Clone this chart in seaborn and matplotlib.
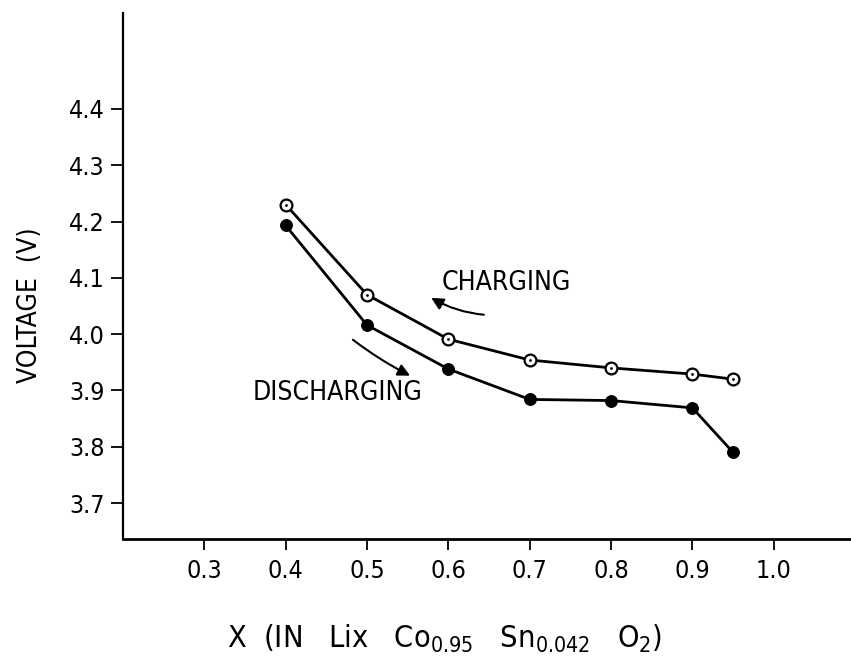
import matplotlib
matplotlib.use("Agg")
import matplotlib.pyplot as plt
import seaborn as sns
import pandas as pd

# Data

x_vals = [0.4, 0.5, 0.6, 0.7, 0.8, 0.9, 0.95]
charging = [4.230, 4.070, 3.991, 3.954, 3.940, 3.929, 3.920]
discharging = [4.193, 4.016, 3.938, 3.884, 3.882, 3.869, 3.790]

x_ticks = [0.3, 0.4, 0.5, 0.6, 0.7, 0.8, 0.9, 1.0]
x_ticklabels = ["0.3", "0.4", "0.5", "0.6", "0.7", "0.8", "0.9", "1.0"]
y_ticks = [3.7, 3.8, 3.9, 4.0, 4.1, 4.2, 4.3, 4.4]
y_ticklabels = ["3.7", "3.8", "3.9", "4.0", "4.1", "4.2", "4.3", "4.4"]

df = pd.DataFrame({"x": x_vals, "charging": charging, "discharging": discharging})

sns.set_style("ticks")
plt.rcParams["font.family"] = ["DejaVu Sans"]
plt.rcParams["font.stretch"] = "condensed"
plt.rcParams["text.color"] = "black"
plt.rcParams["axes.labelcolor"] = "black"

fig = plt.figure(figsize=(8.51, 6.59), dpi=100)
ax = fig.add_axes([0.1445, 0.182, 0.8555, 0.798])

# Charging curve: open circles with a centre dot
sns.lineplot(data=df, x="x", y="charging", ax=ax, color="black", linewidth=2.0,
             marker="o", markersize=8.5, markerfacecolor="white",
             markeredgecolor="black", markeredgewidth=1.6)
sns.scatterplot(data=df, x="x", y="charging", ax=ax, color="black", s=4,
                linewidth=0, zorder=5)

# Discharging curve: filled circles
sns.lineplot(data=df, x="x", y="discharging", ax=ax, color="black", linewidth=2.0,
             marker="o", markersize=8.5, markerfacecolor="black",
             markeredgecolor="black")

# Direction arrows and labels
ax.annotate("", xy=(0.576, 4.067), xytext=(0.647, 4.034),
            arrowprops=dict(arrowstyle="-|>", color="black", lw=1.5,
                            mutation_scale=18,
                            connectionstyle="arc3,rad=-0.12"))
ax.annotate("", xy=(0.556, 3.924), xytext=(0.480, 3.993),
            arrowprops=dict(arrowstyle="-|>", color="black", lw=1.5,
                            mutation_scale=18,
                            connectionstyle="arc3,rad=0.05"))
ax.text(0.592, 4.091, "CHARGING", fontsize=19, va="center", ha="left",
        color="black")
ax.text(0.359, 3.895, "DISCHARGING", fontsize=19, va="center", ha="left",
        color="black")

ax.set_xlim(0.2, 1.095)
ax.set_ylim(3.636, 4.570)
ax.set_xticks(x_ticks)
ax.set_xticklabels(x_ticklabels)
ax.set_yticks(y_ticks)
ax.set_yticklabels(y_ticklabels)
ax.tick_params(axis="both", direction="out", width=1.3, colors="black",
               labelsize=18)
ax.tick_params(axis="x", length=8, pad=6)
ax.tick_params(axis="y", length=9, pad=4)

for side in ["top", "right"]:
    ax.spines[side].set_visible(False)
ax.spines["left"].set_linewidth(1.6)
ax.spines["bottom"].set_linewidth(2.0)
ax.spines["left"].set_color("black")
ax.spines["bottom"].set_color("black")

ax.set_ylabel("VOLTAGE  (V)", fontsize=19)
ax.set_xlabel(r"X  (IN   Lix   $\mathregular{Co_{0.95}}$   $\mathregular{Sn_{0.042}}$   $\mathregular{O_2}$)",
              fontsize=22)
ax.yaxis.set_label_coords(-0.11, 0.445)
ax.xaxis.set_label_coords(0.442, -0.159)

fig.savefig("out.png", dpi=100)
